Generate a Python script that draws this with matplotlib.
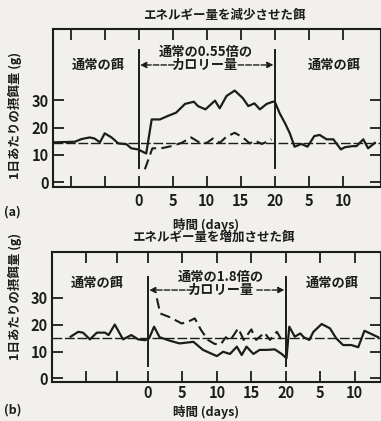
import matplotlib
matplotlib.use("Agg")
import matplotlib.pyplot as plt

plt.rcParams['font.family'] = ['Noto Sans CJK JP', 'DejaVu Sans']
plt.rcParams['font.weight'] = 'bold'

W, H = 381, 421
INK = '#1c1c1c'
PAPER = '#f1f0ec'

# (a) エネルギー量を減少させた餌
a_solid_days = [-12.6, -9.4, -8.4, -7.2, -6.5, -5.7, -5, -4, -3, -1.8, -1.1, -0.1, 1.1, 1.9,
                3.1, 4.3, 5.5, 6.8, 8.1, 8.7, 9.8, 11.2, 11.9, 12.9, 14.1, 15.3, 16.1, 17,
                17.8, 18.8, 19.7, 20, 20.7, 21.5, 22.2, 22.9, 23.9, 24.8, 25.8, 26.6, 27.6,
                28.6, 29.7, 30.3, 31.4, 32, 33, 33.7, 34.7]
a_solid_vals = [14.6, 14.8, 15.8, 16.4, 16, 14.6, 17.9, 16.4, 14.2, 13.9, 12.4, 12, 10.5, 23,
                23, 24.3, 25.5, 28.7, 29.5, 27.9, 26.7, 29.9, 27.1, 31.6, 33.6, 30.8, 27.9, 28.9,
                26.7, 28.7, 29.5, 29.5, 25.3, 21.6, 17.9, 13, 14, 13, 16.9, 17.3, 15.7,
                15.7, 12, 12.8, 13.2, 13.2, 15.7, 12.4, 14.4]
a_dash_days = [0.9, 2, 3.3, 4.8, 6.3, 7.7, 9, 10, 10.9, 11.9, 12.9, 14.1, 15.3, 16.3, 17.1,
               18.1, 18.8, 19.5]
a_dash_vals = [4.7, 12.4, 12.4, 13.2, 14.4, 16.4, 14.4, 14.4, 16, 14.4, 16.7, 18.1, 16.4, 14.2,
               15.2, 14, 14.8, 15.7]
a_base = 14.5

# (b) エネルギー量を増加させた餌
b_solid_days = [-11.2, -10.1, -9.4, -8.4, -7.4, -6.2, -5.7, -4.8, -3.6, -2.4, -1.4, -0.4, 0.2,
                0.9, 1.7, 3.2, 4.6, 6.6, 8, 10, 10.9, 11.9, 12.9, 13.6, 14.3, 15.3, 16.2, 17.2,
                18.4, 19.4, 20.1, 20.5, 21.3, 22.1, 22.6, 23.4, 24, 25.2, 26.4, 27.3, 28.3,
                29.5, 30.5, 31.4, 32.4, 33.4]
b_solid_vals = [15.5, 17.3, 17, 14.5, 17, 17, 16.1, 20, 14.5, 16.1, 14.5, 14.2, 15,
                19.2, 15.3, 14, 13, 13.6, 10.6, 8.3, 9.9, 9.1, 11.8, 8.7, 11.8, 9.1, 10.6, 10.6,
                10.8, 9.1, 7.5, 19.2, 15.5, 16.7, 15.3, 14.3, 17.3, 20.2, 18.6, 14.9, 12.4,
                12.4, 11.6, 17.7, 16.5, 15.3]
b_dash_days = [1.3, 1.8, 3.2, 4.9, 5.8, 6.8, 7.7, 8.7, 9.7, 10.6, 11.3, 11.9, 13.1, 13.9, 15,
               15.7, 16.9, 17.7, 18.7, 19.4, 20.1]
b_dash_vals = [29.7, 24.1, 22.7, 20.4, 21, 22.3, 18, 14.3, 12.8, 12.8, 15.3, 14, 18.6, 14.3,
               18.2, 14.3, 17, 14.3, 17.3, 14.3, 14.9]
b_base = 15

a_ticks = [-10, -5, 0, 5, 10, 15, 20, 25, 30]
b_ticks = [-9, -4.5, 0, 5, 10, 15, 20, 25, 30]
x_labels = ['', '', '0', '5', '10', '15', '20', '5', '10']
y_ticks = [0, 10, 20, 30]

fig = plt.figure(figsize=(W / 100, H / 100), dpi=100, facecolor=PAPER)


def px(x, y):
    return x / W, 1 - y / H


def panel(box, xlim, ylim, ticks, solid, dash, base, vtop, vbot, labels, xpad):
    l, t, r, b = box
    ax = fig.add_axes([l / W, 1 - b / H, (r - l) / W, (b - t) / H])
    ax.set_facecolor(PAPER)
    ax.plot(solid[0], solid[1], color=INK, lw=1.6)
    ax.plot(dash[0], dash[1], color=INK, lw=1.5, dashes=(5, 2.5))
    ax.axhline(base, color=INK, lw=1.0, dashes=(7, 2))
    for d in (0, 20):
        ax.plot([d, d], [vbot, vtop], color=INK, lw=1.4)
    ax.set_xlim(*xlim)
    ax.set_ylim(*ylim)
    ax.set_xticks(ticks)
    ax.set_xticklabels(x_labels)
    ax.set_yticks(y_ticks)
    ax.tick_params(direction='in', length=8, width=1.3, top=True, right=True,
                   labelsize=10.5, colors=INK)
    ax.tick_params(axis='x', pad=xpad)
    ax.tick_params(axis='y', pad=3)
    for s in ax.spines.values():
        s.set_linewidth(1.5)
        s.set_color(INK)
    for lab in ax.get_xticklabels() + ax.get_yticklabels():
        lab.set_fontweight('bold')
    (lx, ly), (mx, my1, my2, mtop, mbot), (rx, ry), (al, ar) = labels
    ax.text(lx, ly, '通常の餌', ha='center', va='center', fontsize=9.5, color=INK)
    ax.text(rx, ry, '通常の餌', ha='center', va='center', fontsize=9.5, color=INK)
    ax.text(mx, my1, mtop, ha='center', va='center', fontsize=9.5, color=INK)
    ax.text(mx, my2, mbot, ha='center', va='center', fontsize=9.5, color=INK)
    arr = dict(arrowstyle='-|>', color=INK, lw=1.0, shrinkA=0, shrinkB=0,
               mutation_scale=9, linestyle=(0, (4, 1.5)))
    ax.annotate('', xy=(0.2, my2), xytext=(al, my2), arrowprops=arr)
    ax.annotate('', xy=(19.8, my2), xytext=(ar, my2), arrowprops=arr)
    return ax


panel((53, 29, 381, 187), (-12.6, 35.6), (-1.8, 56.2), a_ticks,
      (a_solid_days, a_solid_vals), (a_dash_days, a_dash_vals), a_base, 48.5, 5,
      ((-5.9, 43), (9.8, 47.8, 43, '通常の0.55倍の', 'カロリー量'), (28.7, 43), (5.2, 14.6)), 4.5)

panel((52, 252, 381, 382), (-13.9, 33.8), (-1.3, 46.9), b_ticks,
      (b_solid_days, b_solid_vals), (b_dash_days, b_dash_vals), b_base, 37.6, 4.5,
      ((-7.4, 35.4), (10.6, 37.6, 32.8, '通常の1.8倍の', 'カロリー量'), (26.8, 35.4), (6.5, 15.8)), 2)

fig.text(*px(224, 16), 'エネルギー量を減少させた餌', ha='center', va='center', fontsize=9, color=INK)
fig.text(*px(213, 237), 'エネルギー量を増加させた餌', ha='center', va='center', fontsize=9, color=INK)
fig.text(*px(206, 225), '時間 (days)', ha='center', va='center', fontsize=9, color=INK)
fig.text(*px(206, 412), '時間 (days)', ha='center', va='center', fontsize=9, color=INK)
fig.text(*px(15, 115), '1日あたりの摂餌量 (g)', ha='center', va='center', rotation=90,
         fontsize=9, color=INK)
fig.text(*px(15, 296), '1日あたりの摂餌量 (g)', ha='center', va='center', rotation=90,
         fontsize=9, color=INK)
fig.text(*px(12, 212), '(a)', ha='center', va='center', fontsize=9, color=INK)
fig.text(*px(13, 410), '(b)', ha='center', va='center', fontsize=9, color=INK)

fig.savefig('out.png', dpi=100, facecolor=PAPER)
